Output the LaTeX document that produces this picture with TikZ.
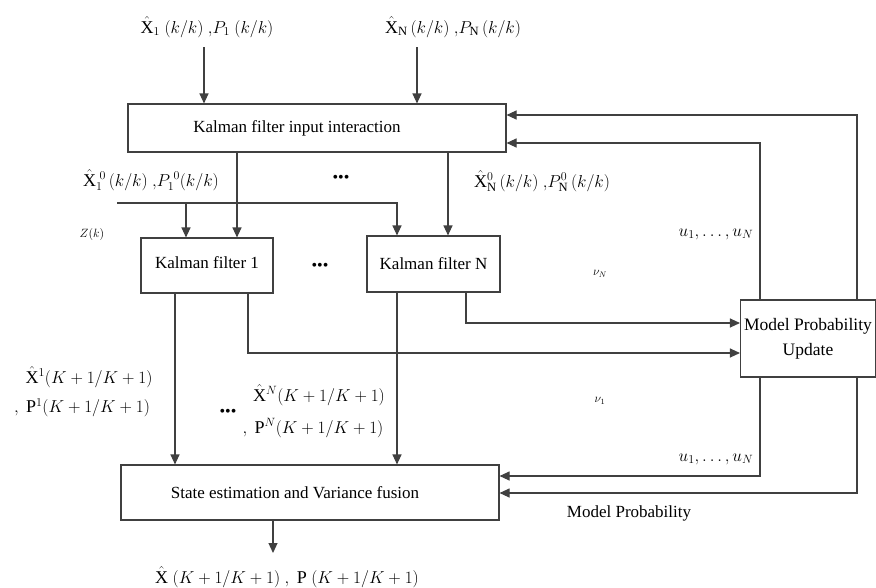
\documentclass[tikz,border=0pt]{standalone}
\usepackage{fontspec}
\setmainfont{Liberation Serif}
\usetikzlibrary{arrows.meta}
\begin{document}
\begin{tikzpicture}[x=1pt,y=-1pt,
  box/.style={draw=black!75, line width=1.1pt, inner sep=2pt, align=center,
    font=\fontsize{17}{24}\selectfont},
  arr/.style={draw=black!75, line width=1.1pt, -{Triangle[length=10pt,width=9pt]}},
  lab/.style={inner sep=0, font=\fontsize{18}{20}\selectfont},
  sml/.style={inner sep=0, font=\fontsize{12}{13}\selectfont},
  dots/.style={inner sep=0, font=\fontsize{16}{16}\selectfont}]
\path[use as bounding box, fill=white] (0,0) rectangle (876,587);

% boxes
\node[box, minimum width=378pt, minimum height=48pt] (top) at (317,128) {Kalman filter input interaction\hspace*{40pt}};
\node[box, minimum width=132pt, minimum height=55pt] (kf1) at (207,265.5) {\raisebox{5pt}{Kalman filter 1}};
\node[box, minimum width=133pt, minimum height=56pt] (kfN) at (433.5,264) {Kalman filter N};
\node[box, minimum width=135pt, minimum height=77pt, font=\fontsize{17.5}{25}\selectfont] (mpu) at (808,338.5) {Model Probability\\Update};
\node[box, minimum width=378pt, minimum height=55pt] (se) at (310,492.5) {State estimation and Variance fusion\hspace*{30pt}};

% free ends
\coordinate (in1) at (204,47);
\coordinate (inN) at (417,47);
\coordinate (z) at (117,203);
\coordinate (out) at (273,553);

% inputs
\draw[arr] (in1) -- (in1 |- top.north);
\draw[arr] (inN) -- (inN |- top.north);
\draw[arr] (237,0 |- top.south) -- (237,0 |- kf1.north);
\draw[arr] (448,0 |- top.south) -- (448,0 |- kfN.north);
\draw[arr] (z) -| (397,0 |- kfN.north);
\draw[arr] (186,0 |- z) -- (186,0 |- kf1.north);

% filter outputs
\draw[arr] (175,0 |- kf1.south) -- (175,0 |- se.north);
\draw[arr] (248,0 |- kf1.south) |- (mpu.west |- 0,353);
\draw[arr] (397,0 |- kfN.south) -- (397,0 |- se.north);
\draw[arr] (466,0 |- kfN.south) |- (mpu.west |- 0,323);

% feedback
\draw[arr] (760,0 |- mpu.north) |- (top.east |- 0,143);
\draw[arr] (857,0 |- mpu.north) |- (top.east |- 0,115);
\draw[arr] (760,0 |- mpu.south) |- (se.east |- 0,476);
\draw[arr] (857,0 |- mpu.south) |- (se.east |- 0,493);

% output
\draw[arr] (273,0 |- se.south) -- (out);

% labels
\node[lab] (l1) at (207,27) {$\hat{\mathrm{X}}_1\ (k/k)\ {,}P_1\ (k/k)$};
\node[lab] (lN) at (453,27) {$\hat{\mathrm{X}}_{\mathrm{N}}\,(k/k)\ {,}P_{\mathrm{N}}\,(k/k)$};
\node[lab] (l10) at (151,180) {$\hat{\mathrm{X}}_1^{\;0}\,(k/k)\ {,}P_1^{\;0}(k/k)$};
\node[dots] (d1) at (341,179) {•••};
\node[lab] (lN0) at (542,181) {$\hat{\mathrm{X}}_{\mathrm{N}}^{0}\,(k/k)\ {,}P_{\mathrm{N}}^{0}\,(k/k)$};
\node[sml] (lz) at (92,234) {$Z(k)$};
\node[dots] (d2) at (320,267) {•••};
\node[lab] (u1) at (716,234) {$u_{1},\ldots,u_{N}$};
\node[lab] (u2) at (716,459) {$u_{1},\ldots,u_{N}$};
\node[sml] (vN) at (600,274) {$\nu_{N}$};
\node[sml] (v1) at (600,401) {$\nu_{1}$};
\node[lab] (x1) at (89,377) {$\hat{\mathrm{X}}^{1}(K+1/K+1)$};
\node[lab] (p1) at (82,408) {$,\ \mathrm{P}^{1}(K+1/K+1)$};
\node[dots] (d3) at (228,413) {•••};
\node[lab] (xN) at (319,395) {$\hat{\mathrm{X}}^{N}(K+1/K+1)$};
\node[lab] (pN) at (313,428) {$,\ \mathrm{P}^{N}(K+1/K+1)$};
\node[inner sep=0, font=\fontsize{17}{19}\selectfont] (mp) at (629,513) {Model Probability};
\node[lab] (lo) at (287,577) {$\hat{\mathrm{X}}\ (K+1/K+1)\ ,\ \mathrm{P}\ (K+1/K+1)$};
\end{tikzpicture}
\end{document}
